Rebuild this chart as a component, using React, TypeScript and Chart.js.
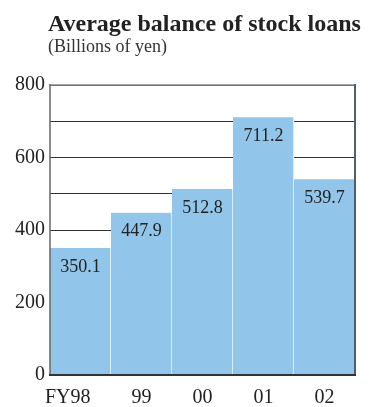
import React, { useEffect, useRef } from "react";
import { Chart, registerables } from "chart.js";

Chart.register(...registerables);

const categories = ["FY98", "99", "00", "01", "02"];
const values = [350.1, 447.9, 512.8, 711.2, 539.7];
const yMin = 0;
const yMax = 800;
const gridStep = 100;
const labelStep = 200;

const titleText = "Average balance of stock loans";
const subtitleText = "(Billions of yen)";

const SERIF = "'Liberation Serif', 'DejaVu Serif', serif";
const BAR_COLOR = "#92c5ea";

const frameAndLabels = {
  id: "frameAndLabels",
  afterDatasetsDraw(chart: any) {
    const { ctx, chartArea } = chart;
    const { left, right, top, bottom } = chartArea;
    ctx.save();
    // value labels
    const meta = chart.getDatasetMeta(0);
    ctx.font = `18px ${SERIF}`;
    ctx.fillStyle = "#222";
    ctx.textAlign = "center";
    ctx.textBaseline = "middle";
    meta.data.forEach((bar: any, i: number) => {
      ctx.fillText(values[i].toFixed(1), bar.x, bar.y + 19);
    });
    // frame
    ctx.lineCap = "square";
    ctx.strokeStyle = "#888";
    ctx.lineWidth = 1.5;
    ctx.beginPath();
    ctx.moveTo(left, top);
    ctx.lineTo(right, top);
    ctx.stroke();
    ctx.strokeStyle = "#666";
    ctx.beginPath();
    ctx.moveTo(left, top);
    ctx.lineTo(left, bottom);
    ctx.stroke();
    ctx.strokeStyle = "#4f5f6c";
    ctx.lineWidth = 2;
    ctx.beginPath();
    ctx.moveTo(right, top);
    ctx.lineTo(right, bottom);
    ctx.stroke();
    ctx.strokeStyle = "#333";
    ctx.beginPath();
    ctx.moveTo(left, bottom);
    ctx.lineTo(right, bottom);
    ctx.stroke();
    // x labels (digits centred under bar)
    const xs = chart.scales.x;
    ctx.font = `20px ${SERIF}`;
    ctx.fillStyle = "#222";
    ctx.textBaseline = "alphabetic";
    categories.forEach((lab, i) => {
      const cx = xs.getPixelForValue(i);
      const m = lab.match(/^(\D*)(\d+)$/);
      if (m && m[1]) {
        const w = ctx.measureText(m[2]).width;
        ctx.textAlign = "right";
        ctx.fillText(lab, cx + w / 2, bottom + 28);
      } else {
        ctx.textAlign = "center";
        ctx.fillText(lab, cx, bottom + 28);
      }
    });
    ctx.restore();
  },
};

export default function App() {
  const ref = useRef<HTMLCanvasElement>(null);
  useEffect(() => {
    document.body.style.margin = "0";
    const chart = new Chart(ref.current!, {
      type: "bar",
      data: {
        labels: categories,
        datasets: [
          {
            data: values,
            backgroundColor: BAR_COLOR,
            borderColor: "#ffffff",
            borderWidth: { left: 0, right: 1, top: 0, bottom: 0 },
            borderSkipped: false,
            barPercentage: 1,
            categoryPercentage: 1,
          },
        ],
      },
      plugins: [frameAndLabels],
      options: {
        responsive: false,
        animation: false,
        events: [],
        layout: { padding: { left: 10, right: 16, top: 85, bottom: 32 } },
        plugins: {
          legend: { display: false },
          title: { display: false },
          tooltip: { enabled: false },
        },
        scales: {
          x: {
            grid: { display: false, drawTicks: false },
            border: { display: false },
            ticks: { display: false },
          },
          y: {
            min: yMin,
            max: yMax,
            ticks: {
              stepSize: gridStep,
              autoSkip: false,
              padding: 5,
              color: "#222",
              font: { family: SERIF, size: 20 },
              callback: (v: any) => (Number(v) % labelStep === 0 ? String(v) : ""),
            },
            grid: { color: "#333", lineWidth: 1, drawTicks: false },
            border: { display: false },
          },
        },
      },
    });
    return () => chart.destroy();
  }, []);

  return (
    <div style={{ position: "relative", width: 371, height: 407, background: "#fff" }}>
      <canvas ref={ref} width={371} height={407} style={{ position: "absolute", left: 0, top: 0 }} />
      <div
        style={{
          position: "absolute",
          left: 48,
          top: 11,
          fontFamily: SERIF,
          fontWeight: "bold",
          fontSize: 24,
          lineHeight: 1,
          color: "#222",
          whiteSpace: "nowrap",
        }}
      >
        {titleText}
      </div>
      <div
        style={{
          position: "absolute",
          left: 48,
          top: 37,
          fontFamily: SERIF,
          fontSize: 18,
          lineHeight: 1,
          color: "#333",
          whiteSpace: "nowrap",
        }}
      >
        {subtitleText}
      </div>
    </div>
  );
}
